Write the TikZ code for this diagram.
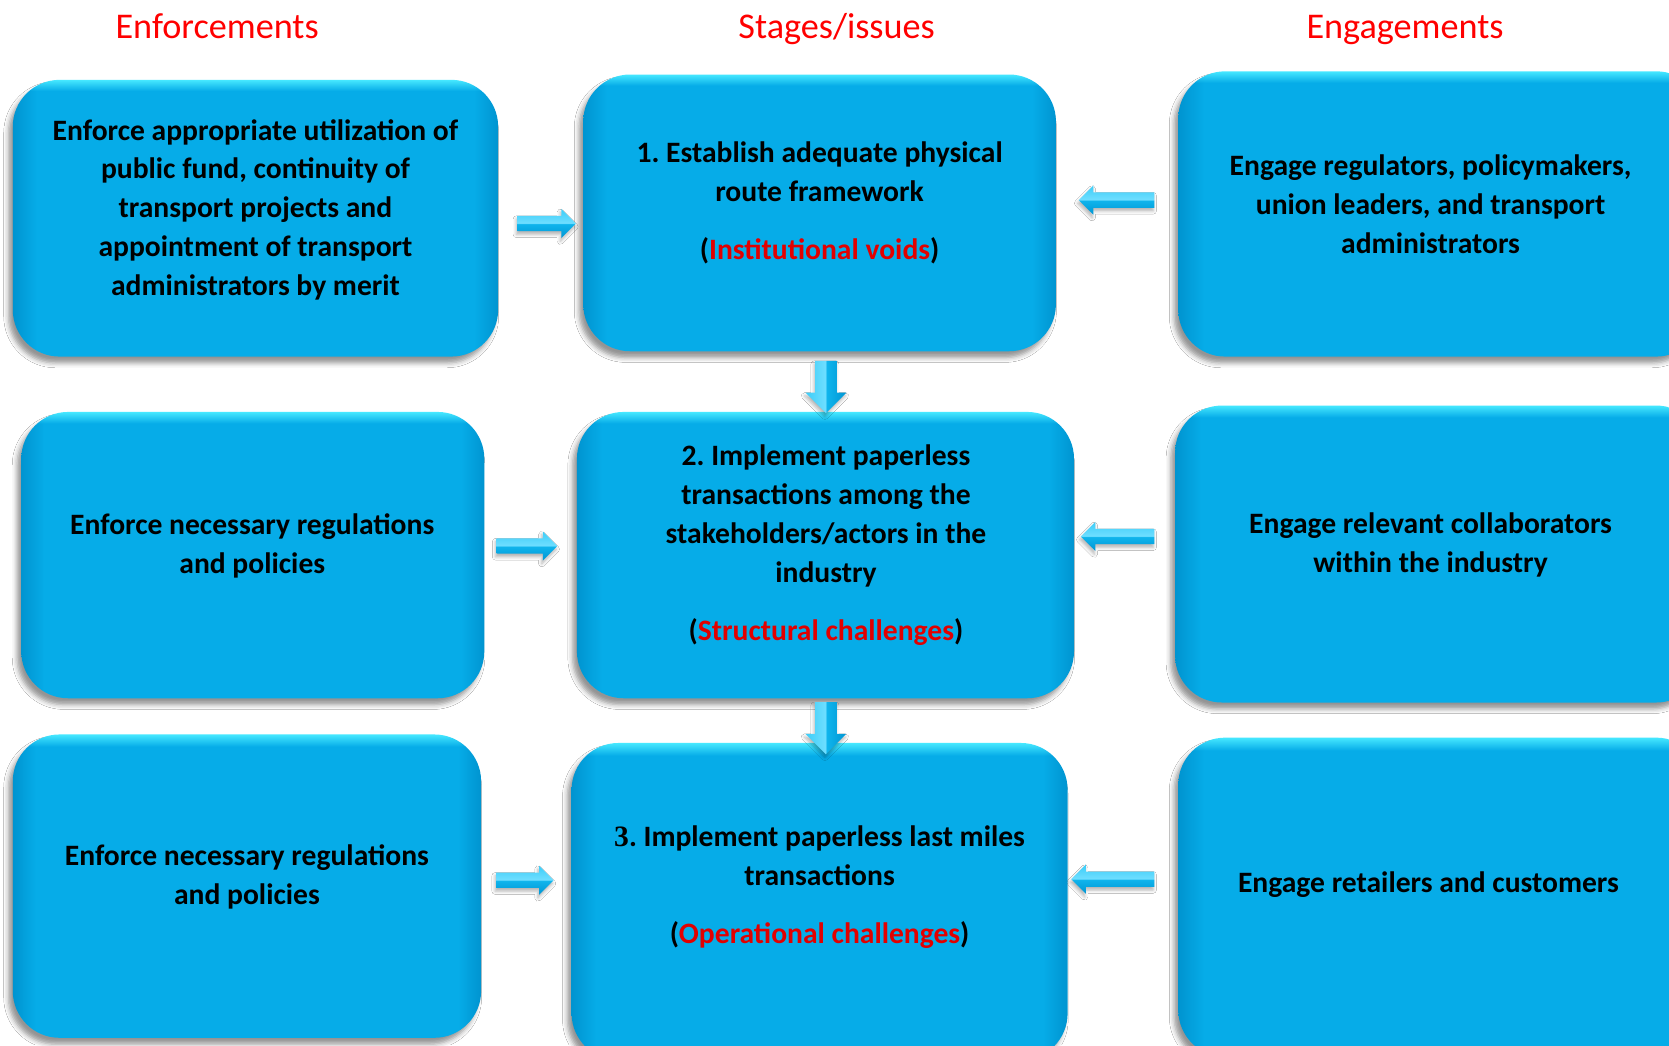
\documentclass[tikz,border=0pt]{standalone}
\usepackage{fontspec}
\setmainfont{Carlito}
\newfontfamily\numserif{Liberation Serif}
\usetikzlibrary{shapes.arrows,shadows.blur,fit}
\frenchspacing

% colours
\definecolor{headred}{RGB}{255,0,0}
\definecolor{labelred}{RGB}{226,0,0}
\definecolor{arrowtopc}{RGB}{60,205,248}
\definecolor{arrowlight}{RGB}{110,222,255}
\definecolor{arrowmid}{RGB}{15,180,236}
\definecolor{arrowdark}{RGB}{0,150,212}

% panel body: flat blue (6,172,232), darker towards the left and right
% edges (0,148,208) and a bright cyan bevel (70,232,255) along the top
\pgfdeclarefunctionalshading{panelfill}{\pgfpoint{0bp}{0bp}}{\pgfpoint{100bp}{100bp}}{}{
  75 exch sub 2 div 1 exch sub
  dup 0 lt {pop 0} if dup 1 gt {pop 1} if
  exch dup 25 sub exch 75 exch sub 2 copy gt {exch} if pop
  2.5 div 1 exch sub
  dup 0 lt {pop 0} if dup 1 gt {pop 1} if
  2 copy -0.0235 mul 0.0235 add dup 0.2745 exch sub 3 -1 roll mul add 3 1 roll
  2 copy -0.0941 mul 0.6745 add dup 0.9098 exch sub 3 -1 roll mul add 3 1 roll
  2 copy -0.0941 mul 0.9098 add dup 1.0 exch sub 3 -1 roll mul add 3 1 roll
  pop pop
}
% block arrows: two faces meeting at a ridge
\pgfdeclareverticalshading{harrowfill}{100bp}{%
  color(0bp)=(arrowdark); color(25bp)=(arrowdark); color(49bp)=(arrowmid);
  color(51bp)=(arrowlight); color(75bp)=(arrowtopc); color(100bp)=(arrowtopc)}
\pgfdeclarehorizontalshading{varrowfill}{100bp}{%
  color(0bp)=(arrowtopc); color(25bp)=(arrowtopc); color(49bp)=(arrowlight);
  color(51bp)=(arrowmid); color(75bp)=(arrowdark); color(100bp)=(arrowdark)}

\tikzset{
  panel/.style={rounded corners=44pt, inner sep=0pt, shading=panelfill,
    blur shadow={shadow xshift=-4pt, shadow yshift=-6pt,
      shadow blur radius=4.5pt, shadow opacity=42}},
  bodytext/.style={align=center, inner sep=0pt, text=black,
    font=\bfseries\fontsize{27.8}{36.5}\selectfont},
  heading/.style={inner sep=0pt, text=headred, anchor=base,
    font=\fontsize{34}{40}\selectfont},
  harrow/.style={single arrow, draw=none, inner xsep=0pt, inner ysep=7pt,
    minimum width=27pt, single arrow head extend=6.5pt,
    single arrow tip angle=90, shading=harrowfill,
    blur shadow={shadow xshift=-1pt, shadow yshift=-3pt,
      shadow blur radius=3pt, shadow opacity=30}},
  rarrow/.style={harrow},
  larrow/.style={harrow, shape border rotate=180},
  darrow/.style={single arrow, draw=none, inner sep=10pt,
    minimum width=38pt, single arrow head extend=9pt,
    single arrow tip angle=90, shape border rotate=270, shading=varrowfill,
    minimum height=49pt,
    blur shadow={shadow xshift=-1pt, shadow yshift=-3pt,
      shadow blur radius=3pt, shadow opacity=30}},
}

\begin{document}
\begin{tikzpicture}[x=1pt, y=-1pt]
\useasboundingbox (0,0) rectangle (1568,982);
\fill[white] (0,0) rectangle (1568,982);

% column headings
\node[heading] (hEnf) at (204,36) {Enforcements};
\node[heading] (hSta) at (786,36) {Stages/issues};
\node[heading] (hEng) at (1320,36) {Engagements};

% row 1
\node[panel, fit={(12,75) (468,335)}] (L1) {};
\node[panel, fit={(548,70) (992,330)}] (M1) {};
\node[panel, fit={(1107,67) (1600,335)}] (R1) {};
% row 2
\node[panel, fit={(20,387) (455,656)}] (L2) {};
\node[panel, fit={(542,387) (1009,656)}] (M2) {};
\node[panel, fit={(1104,381) (1600,660)}] (R2) {};
% row 3
\node[panel, fit={(12,690) (452,975)}] (L3) {};
\node[panel, fit={(537,698) (1003,996)}] (M3) {};
\node[panel, fit={(1107,693) (1600,993)}] (R3) {};

% panel texts
\node[bodytext] (tL1) at (240,197) {Enforce appropriate utilization of\\public fund, continuity of\\transport projects and\\appointment of transport\\administrators by merit};
\node[bodytext] (tM1) at (770,190.5) {1. Establish adequate physical\\route framework\\[18.5pt](\textcolor{labelred}{Institutional voids})};
\node[bodytext] (tR1) at (1344,192) {Engage regulators, policymakers,\\union leaders, and transport\\administrators};

\node[bodytext] (tL2) at (237,513) {Enforce necessary regulations\\and policies};
\node[bodytext] (tM2) at (776,512.5) {2. Implement paperless\\transactions among the\\stakeholders/actors in the\\industry\\[18.5pt](\textcolor{labelred}{Structural challenges})};
\node[bodytext] (tR2) at (1344,512) {Engage relevant collaborators\\within the industry};

\node[bodytext] (tL3) at (232,824) {Enforce necessary regulations\\and policies};
\node[bodytext] (tM3) at (770,833.5) {{\numserif 3}. Implement paperless last miles\\transactions\\[18.5pt](\textcolor{labelred}{Operational challenges})};
\node[bodytext] (tR3) at (1342,831) {Engage retailers and customers};

% block arrows between the panels
\node[rarrow, minimum height=55pt] (aL1) at (510,210) {};
\node[rarrow, minimum height=57pt] (aL2) at (491.5,513) {};
\node[rarrow, minimum height=54pt] (aL3) at (489.5,827) {};
\node[larrow, minimum height=71pt] (aR1) at (1052.5,188) {};
\node[larrow, minimum height=69pt] (aR2) at (1053.5,504) {};
\node[larrow, minimum height=78pt] (aR3) at (1049,826) {};
\node[darrow] (aD1) at (776,358.5) {};
\node[darrow] (aD2) at (776,679) {};
\end{tikzpicture}
\end{document}
